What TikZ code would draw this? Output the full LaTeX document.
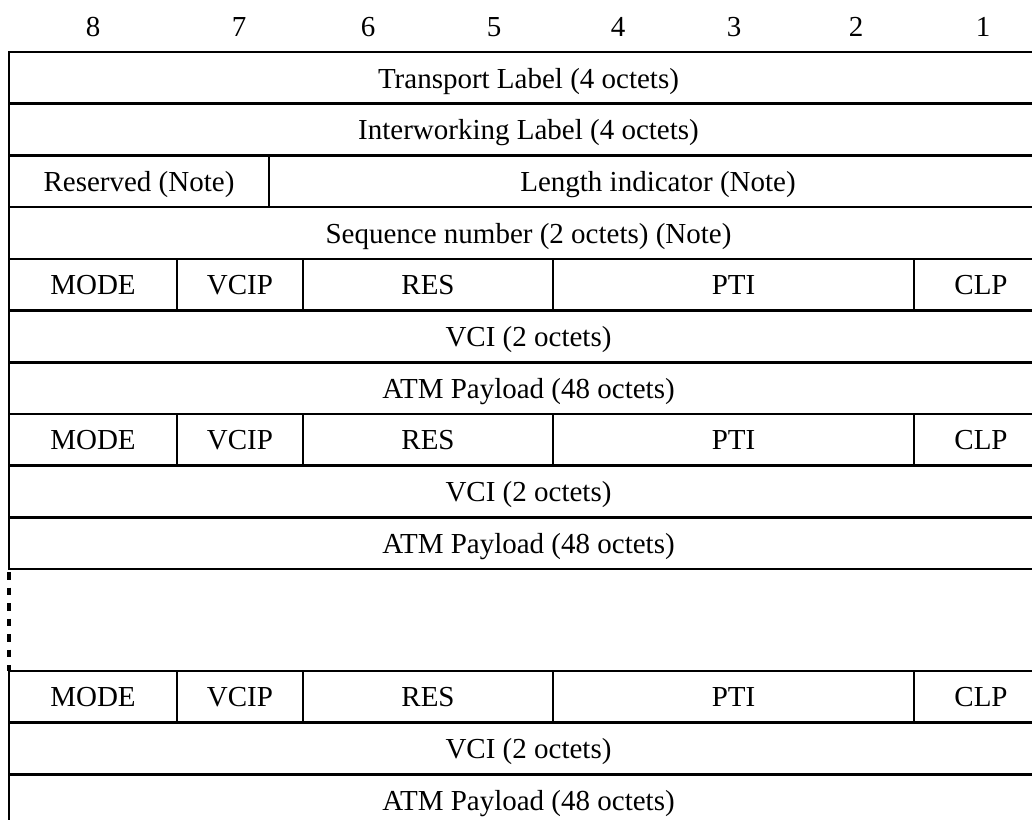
\documentclass[tikz,border=0pt]{standalone}
\usepackage{fontspec}
\setmainfont{Liberation Serif}
\begin{document}
\begin{tikzpicture}[x=1pt,y=-1pt,
  rule/.style={line width=2.6pt, line cap=rect},
  divider/.style={line width=2.4pt},
  dashedrule/.style={line width=3.2pt, dash pattern=on 7.5pt off 8pt},
  lbl/.style={anchor=base, inner sep=0pt, font=\fontsize{29}{34}\selectfont}]
\useasboundingbox (0,0) rectangle (1032,819);
\clip (0,0) rectangle (1032,819);

% horizontal rules
\foreach \k in {0,...,10}
  \draw[rule] (9,{52+51.7*\k}) -- (1060,{52+51.7*\k});
\foreach \yy in {671,722.7,774.4}
  \draw[rule] (9,\yy) -- (1060,\yy);

% left border
\draw[rule] (9,52) -- (9,569);
\draw[dashedrule] (9,572) -- (9,671);
\draw[rule] (9,671) -- (9,830);

% divider in the Reserved / Length indicator row
\draw[divider] (269,155.4) -- (269,207.1);

% dividers in the MODE/VCIP/RES/PTI/CLP rows
\foreach \t in {258.8,413.9,671}
  \foreach \xx in {177,303,553,914}
    \draw[divider] (\xx,\t) -- (\xx,{\t+51.7});

% bit numbers
\node[lbl] (b8) at (93,36.8) {8};
\node[lbl] (b7) at (239,36.8) {7};
\node[lbl] (b6) at (368,36.8) {6};
\node[lbl] (b5) at (494,36.8) {5};
\node[lbl] (b4) at (618,36.8) {4};
\node[lbl] (b3) at (734,36.8) {3};
\node[lbl] (b2) at (856,36.8) {2};
\node[lbl] (b1) at (983,36.8) {1};

% header fields
\node[lbl] (tl) at (528.5,88) {Transport Label (4 octets)};
\node[lbl] (il) at (528.5,139.6) {Interworking Label (4 octets)};
\node[lbl] (rs) at (139,191.3) {Reserved (Note)};
\node[lbl] (li) at (658,191.3) {Length indicator (Note)};
\node[lbl] (sn) at (528.5,243) {Sequence number (2 octets) (Note)};

% cell 1
\node[lbl] (m1) at (93,294.7) {MODE};
\node[lbl] (v1) at (240,294.7) {VCIP};
\node[lbl] (r1) at (428,294.7) {RES};
\node[lbl] (p1) at (733.5,294.7) {PTI};
\node[lbl] (c1) at (981,294.7) {CLP};
\node[lbl] (vci1) at (528.5,346.4) {VCI (2 octets)};
\node[lbl] (atm1) at (528.5,398) {ATM Payload (48 octets)};

% cell 2
\node[lbl] (m2) at (93,449.8) {MODE};
\node[lbl] (v2) at (240,449.8) {VCIP};
\node[lbl] (r2) at (428,449.8) {RES};
\node[lbl] (p2) at (733.5,449.8) {PTI};
\node[lbl] (c2) at (981,449.8) {CLP};
\node[lbl] (vci2) at (528.5,501.5) {VCI (2 octets)};
\node[lbl] (atm2) at (528.5,553.2) {ATM Payload (48 octets)};

% cell n
\node[lbl] (m3) at (93,706.9) {MODE};
\node[lbl] (v3) at (240,706.9) {VCIP};
\node[lbl] (r3) at (428,706.9) {RES};
\node[lbl] (p3) at (733.5,706.9) {PTI};
\node[lbl] (c3) at (981,706.9) {CLP};
\node[lbl] (vci3) at (528.5,758.6) {VCI (2 octets)};
\node[lbl] (atm3) at (528.5,810.3) {ATM Payload (48 octets)};
\end{tikzpicture}
\end{document}
